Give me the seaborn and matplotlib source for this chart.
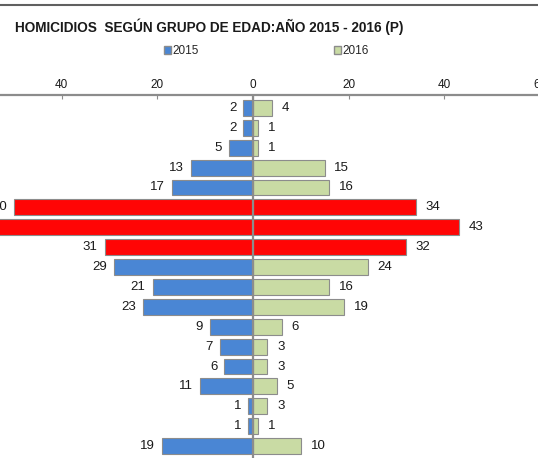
import numpy as np
import pandas as pd
import matplotlib
matplotlib.use("Agg")
import matplotlib.pyplot as plt
import seaborn as sns
from matplotlib.patches import Patch

# Data
grupos = ["0-4", "5-9", "10-14", "15-19", "20-24", "25-29", "30-34", "35-39", "40-44",
          "45-49", "50-54", "55-59", "60-64", "65-69", "70-74", "75-79", "80 y más", "Sin inf."]
v2015 = [2, 2, 5, 13, 17, 50, 56, 31, 29, 21, 23, 9, 7, 6, 11, 1, 1, 19]
v2016 = [4, 1, 1, 15, 16, 34, 43, 32, 24, 16, 19, 6, 3, 3, 5, 3, 1, 10]
destacados = ["25-29", "30-34", "35-39"]

BLUE = "#4a86d4"
GREEN = "#c9dba4"
RED = "#ff0505"

df = pd.DataFrame({"grupo": grupos, "a2015": v2015, "a2016": v2016})
df["neg2015"] = -df["a2015"]
pal15 = {g: (RED if g in destacados else BLUE) for g in grupos}
pal16 = {g: (RED if g in destacados else GREEN) for g in grupos}

sns.set_style("white")
plt.rcParams["font.family"] = ["Liberation Sans", "DejaVu Sans"]

fig = plt.figure(figsize=(5.38, 4.63), dpi=100)
ax = fig.add_axes([0, 1 - 458 / 463, 1, (458 - 95) / 463])

sns.barplot(data=df, x="neg2015", y="grupo", hue="grupo", palette=pal15, orient="h",
            width=0.8, saturation=1, edgecolor="#8c8c8c", linewidth=0.8, legend=False, ax=ax)
sns.barplot(data=df, x="a2016", y="grupo", hue="grupo", palette=pal16, orient="h",
            width=0.8, saturation=1, edgecolor="#8c8c8c", linewidth=0.8, legend=False, ax=ax)

# data labels
for i, (a, b) in enumerate(zip(v2015, v2016)):
    ax.annotate(str(a), xy=(-a, i), xytext=(-5, 0), textcoords="offset points",
                ha="right", va="center", fontsize=9.5, color="#1a1a1a")
    ax.annotate(str(b), xy=(b, i), xytext=(7, 0), textcoords="offset points",
                ha="left", va="center", fontsize=9.5, color="#1a1a1a")

ax.axvline(0, color="#8c8c8c", lw=1.6)

ticks = [-60, -40, -20, 0, 20, 40, 60]
ax.set_xticks(ticks)
ax.set_xticklabels([str(abs(t)) for t in ticks])
ax.set_xlim(-52.9, 59.6)
ax.set_ylim(17.6, -0.65)
ax.xaxis.tick_top()
ax.tick_params(axis="x", direction="in", length=3, width=0.8, color="#8c8c8c",
               labelsize=8.5, labelcolor="#1a1a1a", pad=3)
# tick label at 60 sits partly outside the view, like in the original
ax.annotate("60", xy=(60, 1), xycoords=("data", "axes fraction"), xytext=(0, 3),
            textcoords="offset points", ha="center", va="bottom", fontsize=8.5,
            color="#1a1a1a", annotation_clip=False)
ax.set_yticks([])
ax.set_xlabel("")
ax.set_ylabel("")
for s in ["left", "right", "bottom"]:
    ax.spines[s].set_visible(False)
ax.spines["top"].set_color("#8c8c8c")
ax.spines["top"].set_linewidth(1.6)

# title and border line
fig.add_artist(plt.Line2D([0, 1], [1 - 5 / 463, 1 - 5 / 463], color="#606060", lw=1.5))
fig.text(15 / 538, 1 - 27 / 463, "HOMICIDIOS  SEGÚN GRUPO DE EDAD:AÑO 2015 - 2016 (P)",
         fontsize=9.8, fontweight="bold", ha="left", va="center", color="#1a1a1a")

handles = [Patch(facecolor=BLUE, edgecolor="#8c8c8c", label="2015"),
           Patch(facecolor=GREEN, edgecolor="#8c8c8c", label="2016")]
fig.legend(handles=handles, loc="center left", bbox_to_anchor=(164 / 538, 1 - 51 / 463),
           ncol=2, frameon=False, fontsize=8.5, handlelength=0.6, handleheight=0.6,
           handletextpad=0.1, columnspacing=11.5, borderaxespad=0, borderpad=0)

fig.savefig("out.png", dpi=100)
